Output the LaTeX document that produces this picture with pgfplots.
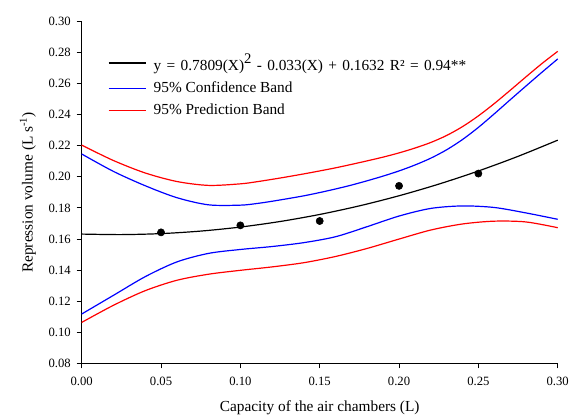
\documentclass[border=0pt]{standalone}
\usepackage{pgfplots}
\pgfplotsset{compat=1.18}
\usepackage{fontspec}
\setmainfont{Liberation Serif}
\begin{document}
\begin{tikzpicture}
\begin{axis}[
  scale only axis,
  width=357pt, height=256.6pt,
  xmin=0, xmax=0.30, ymin=0.08, ymax=0.30,
  axis x line*=bottom, axis y line*=left,
  axis line style={-, line width=0.75pt},
  xtick={0,0.05,...,0.30},
  ytick={0.08,0.10,...,0.30},
  tick align=outside,
  major tick length=3.75pt,
  tick style={line width=0.75pt, black},
  xticklabel style={font=\fontsize{9.5}{11}\selectfont, inner sep=0pt, anchor=north, yshift=-6.5pt},
  yticklabel style={font=\fontsize{9.5}{11}\selectfont, inner sep=0pt, anchor=east, xshift=-4.3pt},
  /pgf/number format/assume math mode=true,
  /pgf/number format/.cd, fixed, fixed zerofill, precision=2, /pgfplots/.cd,
  xlabel={Capacity of the air chambers (L)},
  ylabel={Repression volume (L s\textsuperscript{-1})},
  xlabel style={font=\fontsize{11.5}{13}\selectfont, at={(axis description cs:0.5,-0.13)}, anchor=center, inner sep=0pt},
  ylabel style={font=\fontsize{11.5}{13}\selectfont, at={(axis description cs:-0.113,0.5)}, anchor=center, inner sep=0pt},
  legend style={at={(axis description cs:0.055,0.914)}, anchor=north west, draw=none, fill=none,
    font=\fontsize{11.5}{13}\selectfont, inner sep=0pt, row sep=3.1pt},
  legend cell align=left,
  legend image code/.code={\draw[#1] (0cm,0cm) -- (0.98cm,0cm); \path (1.1cm,0cm);},
  clip=false,
]
\coordinate (bl) at (rel axis cs:-0.1716,-0.1596);
\coordinate (tr) at (rel axis cs:1.0258,1.0623);

\addplot[black, line width=0.9pt, smooth] coordinates {
(0,0.16320) (0.025,0.16286) (0.05,0.16350) (0.075,0.16512) (0.1,0.16771)
(0.125,0.17128) (0.15,0.17582) (0.175,0.18134) (0.2,0.18784) (0.225,0.19531)
(0.25,0.20376) (0.275,0.21318) (0.3,0.22358)};
\addlegendentry{{\spaceskip=4pt plus 1pt y = 0.7809(X)\raisebox{0.45em}{\fontsize{11}{11}\selectfont 2} - 0.033(X) + 0.1632 R² = 0.94**}}

\addplot[blue, line width=0.9pt, smooth] coordinates {
(0,0.2147) (0.02,0.2035) (0.04,0.1943) (0.06,0.1866) (0.08,0.1820)
(0.10,0.1818) (0.11,0.1828) (0.12,0.1843) (0.13,0.1860) (0.14,0.1878)
(0.15,0.1899) (0.16,0.1922) (0.17,0.1947) (0.18,0.1975) (0.19,0.2005)
(0.20,0.2038) (0.21,0.2076) (0.22,0.2120) (0.23,0.2174) (0.24,0.2240)
(0.25,0.2318) (0.26,0.2405) (0.27,0.2495) (0.28,0.2584) (0.29,0.2672) (0.30,0.2758)};
\addlegendentry{95\% Confidence Band}

\addplot[red, line width=0.9pt, smooth] coordinates {
(0,0.2204) (0.02,0.2105) (0.04,0.2025) (0.06,0.1970) (0.08,0.1945)
(0.10,0.1955) (0.11,0.1968) (0.12,0.1984) (0.13,0.2001) (0.14,0.2019)
(0.15,0.2038) (0.16,0.2058) (0.17,0.2080) (0.18,0.2103) (0.19,0.2127)
(0.20,0.2154) (0.21,0.2185) (0.22,0.2221) (0.23,0.2266) (0.24,0.2323)
(0.25,0.2392) (0.26,0.2471) (0.27,0.2556) (0.28,0.2643) (0.29,0.2728) (0.30,0.2807)};
\addlegendentry{95\% Prediction Band}

\addplot[blue, line width=0.9pt, smooth, forget plot] coordinates {
(0,0.1118) (0.02,0.1238) (0.04,0.1358) (0.06,0.1453) (0.08,0.1508)
(0.10,0.1533) (0.12,0.1552) (0.14,0.1577) (0.16,0.1615) (0.18,0.1680)
(0.20,0.1748) (0.22,0.1797) (0.24,0.1813) (0.26,0.1803) (0.28,0.1768) (0.30,0.1727)};

\addplot[red, line width=0.9pt, smooth, forget plot] coordinates {
(0,0.1064) (0.02,0.1174) (0.04,0.1268) (0.06,0.1335) (0.08,0.1374)
(0.10,0.1399) (0.12,0.1421) (0.14,0.1448) (0.16,0.1488) (0.18,0.1540)
(0.20,0.1600) (0.22,0.1658) (0.24,0.1697) (0.26,0.1715) (0.28,0.1710) (0.30,0.1673)};

\addplot[only marks, mark=*, mark size=2.7pt, black, forget plot] coordinates {
(0.05,0.1643) (0.10,0.1688) (0.15,0.1716) (0.20,0.1942) (0.25,0.2021)};
\end{axis}
\pgfresetboundingbox
\useasboundingbox (bl) rectangle (tr);
\end{tikzpicture}
\end{document}
